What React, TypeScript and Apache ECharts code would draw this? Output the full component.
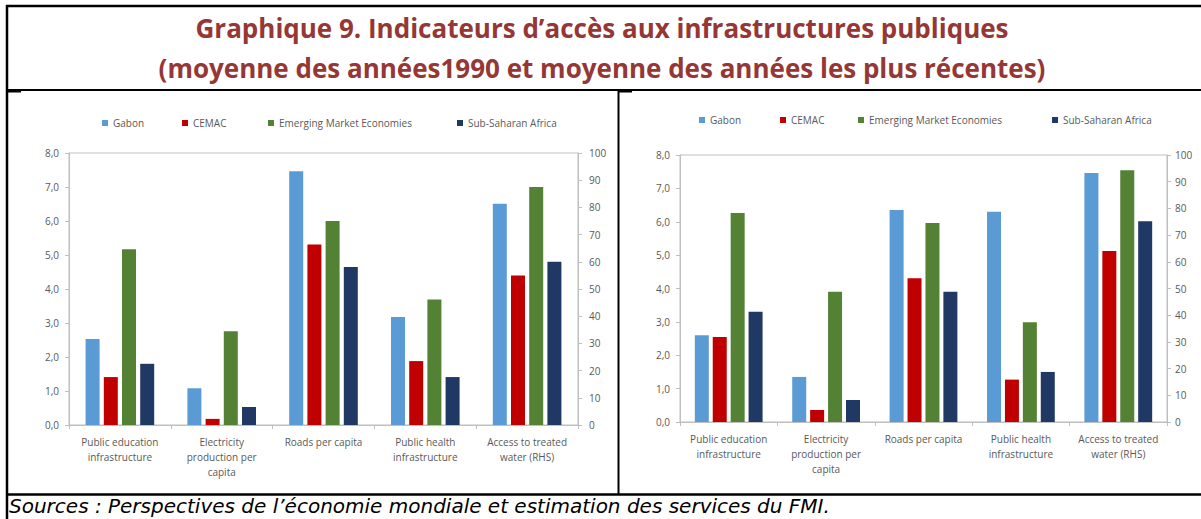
import React, { useEffect, useRef } from 'react';
import * as echarts from 'echarts';

// ---------- data ----------
const categories = [
  'Public education\ninfrastructure',
  'Electricity\nproduction per\ncapita',
  'Roads per capita',
  'Public health\ninfrastructure',
  'Access to treated\nwater (RHS)',
];
const seriesNames = ['Gabon', 'CEMAC', 'Emerging Market Economies', 'Sub-Saharan Africa'];
// index of the category plotted on the right-hand axis (0-100)
const rhsCategoryIndex = 4;

// 1990s averages (left panel)
const gabon1990s = [2.53, 1.08, 7.46, 3.18, 81.3];
const cemac1990s = [1.41, 0.18, 5.31, 1.88, 55];
const eme1990s = [5.17, 2.76, 6.0, 3.69, 87.5];
const ssa1990s = [1.8, 0.53, 4.65, 1.41, 60];

// most recent years averages (right panel)
const gabonRecent = [2.6, 1.35, 6.35, 6.3, 93.3];
const cemacRecent = [2.55, 0.36, 4.31, 1.27, 64];
const emeRecent = [6.26, 3.9, 5.96, 2.99, 94.3];
const ssaRecent = [3.3, 0.66, 3.9, 1.5, 75.2];

const lhsMin = 0, lhsMax = 8, lhsStep = 1;
const rhsMin = 0, rhsMax = 100, rhsStep = 10;

const titleLine1 = 'Graphique 9. Indicateurs d\u2019accès aux infrastructures publiques';
const titleLine2 = '(moyenne des années1990 et moyenne des années les plus récentes)';
const sourceText = 'Sources : Perspectives de l\u2019économie mondiale et estimation des services du FMI.';

// ---------- style ----------
const seriesColors = ['#5B9BD5', '#C00000', '#548235', '#203864'];
const axisGray = '#BFBFBF';
const labelGray = '#595959';
const FONT = '"Open Sans", "Noto Sans", sans-serif';

const panels = [
  { datasets: [gabon1990s, cemac1990s, eme1990s, ssa1990s], grid: { left: 69, top: 153, width: 509, height: 272 }, legendX: [102, 182, 268, 457], legendY: 118, barGap: '30%', rMargin: 11 },
  { datasets: [gabonRecent, cemacRecent, emeRecent, ssaRecent], grid: { left: 680, top: 155, width: 487, height: 267 }, legendX: [699, 780, 858, 1052], legendY: 115, barGap: '28%', rMargin: 8 },
];

function buildOption() {
  const grid: any[] = [];
  const xAxis: any[] = [];
  const yAxis: any[] = [];
  const legend: any[] = [];
  const series: any[] = [];

  panels.forEach((p, pi) => {
    grid.push({ ...p.grid, show: true, borderColor: axisGray, borderWidth: 1, containLabel: false });
    xAxis.push({
      gridIndex: pi,
      type: 'category',
      data: categories,
      axisLine: { show: true, lineStyle: { color: axisGray } },
      axisTick: { show: true, length: 4, lineStyle: { color: axisGray } },
      axisLabel: { interval: 0, color: labelGray, fontSize: 10, lineHeight: 15, margin: 9, fontFamily: FONT },
      splitLine: { show: false },
    });
    const commonY = {
      gridIndex: pi,
      type: 'value',
      splitLine: { show: false },
      axisLine: { show: true, lineStyle: { color: axisGray } },
      axisTick: { show: true, length: 4, lineStyle: { color: axisGray } },
    };
    yAxis.push({
      ...commonY,
      position: 'left',
      min: lhsMin, max: lhsMax, interval: lhsStep,
      axisLabel: { color: labelGray, fontSize: 10, margin: 10, fontFamily: FONT, formatter: (v: number) => v.toFixed(1).replace('.', ',') },
    });
    yAxis.push({
      ...commonY,
      position: 'right',
      min: rhsMin, max: rhsMax, interval: rhsStep,
      axisLabel: { color: labelGray, fontSize: 10, margin: p.rMargin, fontFamily: FONT },
    });
    seriesNames.forEach((name, c) => {
      legend.push({
        data: [name],
        left: p.legendX[c],
        top: p.legendY,
        padding: 0,
        icon: 'rect',
        itemWidth: 6,
        itemHeight: 6,
        selectedMode: false,
        textStyle: { color: labelGray, fontSize: 10, fontFamily: FONT },
      });
      const vals = p.datasets[c];
      const base = {
        name,
        type: 'bar',
        xAxisIndex: pi,
        stack: `panel${pi}-${c}`,
        barWidth: 14,
        barGap: p.barGap,
        itemStyle: { color: seriesColors[c] },
      };
      series.push({ ...base, yAxisIndex: pi * 2, data: vals.map((v, i) => (i === rhsCategoryIndex ? null : v)) });
      series.push({ ...base, yAxisIndex: pi * 2 + 1, data: vals.map((v, i) => (i === rhsCategoryIndex ? v : null)) });
    });
  });

  const line = (x1: number, y1: number, x2: number, y2: number, w = 2) => ({
    type: 'line', silent: true, shape: { x1, y1, x2, y2 }, style: { stroke: '#000', lineWidth: w },
  });

  const graphic: any[] = [
    line(6, 6, 1201, 6, 2.5),
    line(7, 5, 7, 519, 2.5),
    line(6, 90, 1201, 90, 2),
    line(7, 91.5, 21, 91.5, 2),
    line(618.5, 90, 618.5, 495, 2),
    line(618, 91.5, 632, 91.5, 2),
    line(6, 494.5, 1201, 494.5, 2.5),
    {
      type: 'text', x: 602, y: 28, silent: true,
      style: { text: titleLine1, fill: '#953735', fontSize: 26, fontWeight: 'bold', fontFamily: FONT, align: 'center', verticalAlign: 'middle' },
    },
    {
      type: 'text', x: 602, y: 68, silent: true,
      style: { text: titleLine2, fill: '#953735', fontSize: 26, fontWeight: 'bold', fontFamily: FONT, align: 'center', verticalAlign: 'middle' },
    },
    {
      type: 'text', x: 9, y: 506, silent: true,
      style: { text: sourceText, fill: '#000', fontSize: 20, fontStyle: 'italic', fontFamily: '"DejaVu Sans", sans-serif', align: 'left', verticalAlign: 'middle' },
    },
  ];

  return {
    animation: false,
    backgroundColor: '#fff',
    textStyle: { fontFamily: FONT },
    grid, xAxis, yAxis, legend, series, graphic,
  };
}

export default function App() {
  const ref = useRef<HTMLDivElement>(null);
  useEffect(() => {
    if (!ref.current) return;
    const chart = echarts.init(ref.current, undefined, { renderer: 'svg' });
    chart.setOption(buildOption() as any);
    return () => chart.dispose();
  }, []);
  return <div ref={ref} style={{ position: 'absolute', left: 0, top: 0, width: 1201, height: 519, background: '#fff' }} />;
}
